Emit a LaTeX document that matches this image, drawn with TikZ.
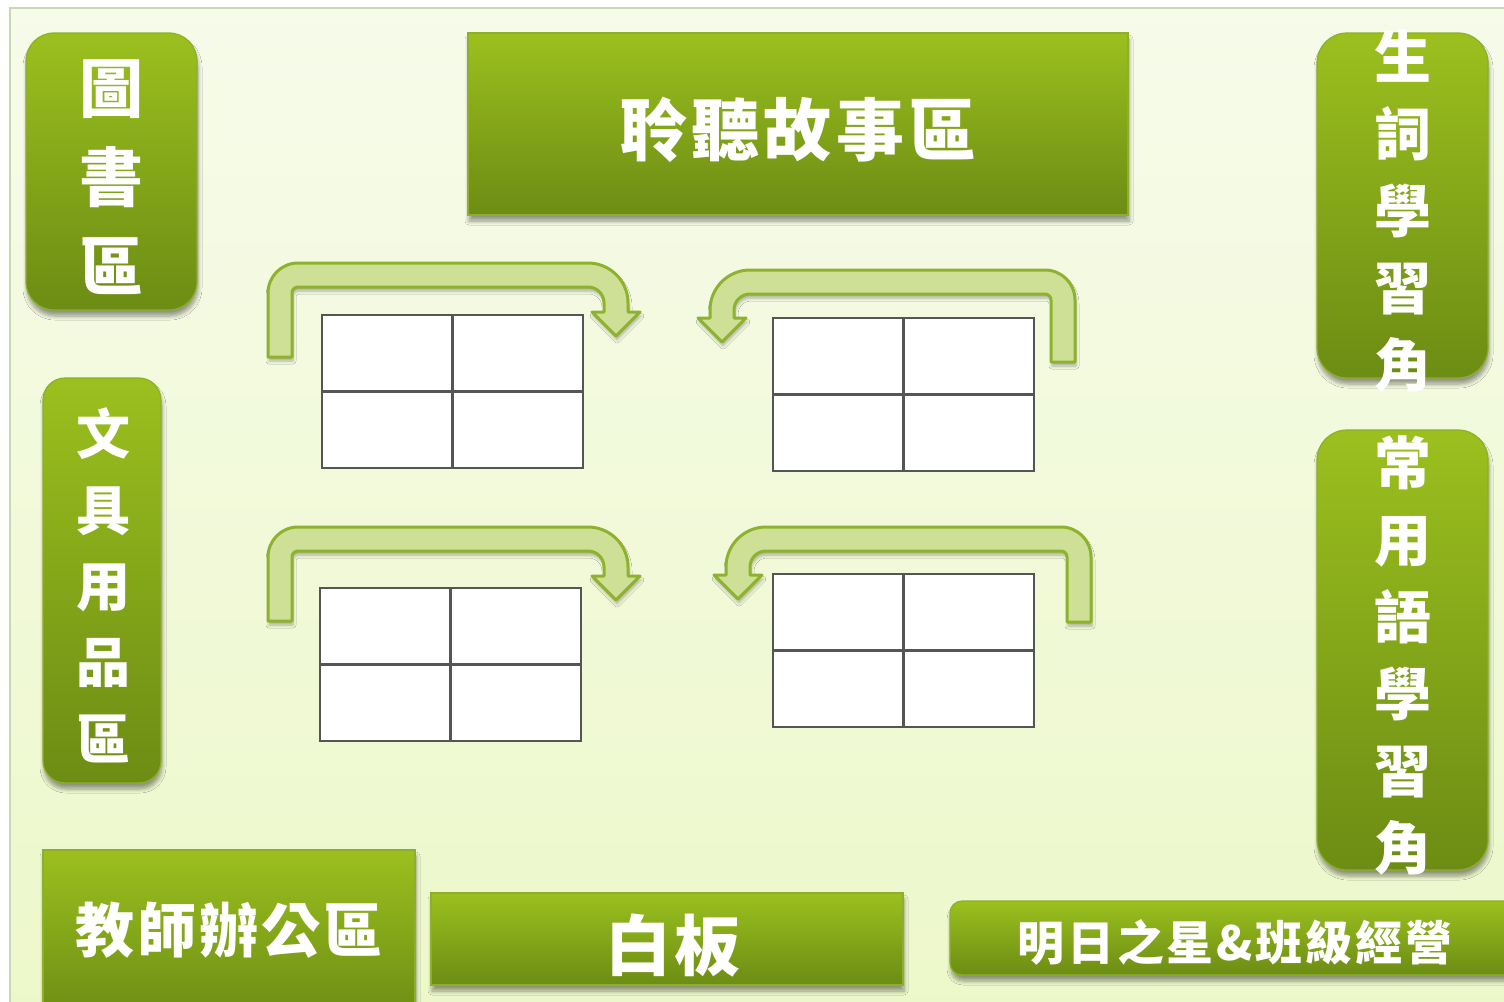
\documentclass[tikz,border=0pt]{standalone}
\usepackage{fontspec}
\newfontfamily\cjk{Noto Sans CJK TC}
\usetikzlibrary{shadows.blur}
\definecolor{gtop}{HTML}{9BC01E}
\definecolor{gbot}{HTML}{6C8C14}
\definecolor{gedge}{HTML}{8DAF2A}
\definecolor{afill}{HTML}{CDE096}
\definecolor{aedge}{HTML}{8FB22E}
\definecolor{bgtop}{HTML}{F6FBEA}
\definecolor{bgbot}{HTML}{EDF8CA}
\definecolor{framec}{HTML}{C9D8AE}
\definecolor{gridc}{HTML}{555555}
\tikzset{
  greenbox/.style={top color=gtop, bottom color=gbot, draw=gedge, line width=0.6pt,
    blur shadow={shadow blur steps=6, shadow xshift=0.5pt, shadow yshift=-3pt, shadow opacity=40, shadow blur radius=2pt}},
  uarrow/.style={fill=afill, draw=aedge, line width=1.5pt, line join=round,
    blur shadow={shadow blur steps=5, shadow xshift=0.5pt, shadow yshift=-2pt, shadow opacity=30, shadow blur radius=1.5pt}},
  seat/.style={fill=white, draw=gridc, line width=1.2pt},
  seatline/.style={draw=gridc, line width=1.2pt},
  label/.style={text=white, inner sep=0pt, align=center},
}
\begin{document}
\begin{tikzpicture}[x=0.5pt, y=-0.5pt]
\useasboundingbox (0,0) rectangle (1504,1001);
\fill[white] (0,0) rectangle (1504,1001);
\shade[top color=bgtop, bottom color=bgbot] (10,8) rectangle (1510,1010);
\draw[framec, line width=1pt] (10,1010) -- (10,8) -- (1510,8);

% boxes
\path[greenbox, rounded corners=14pt] (26,33) rectangle (197,310);
\path[greenbox] (468,33) rectangle (1128,215);
\path[greenbox, rounded corners=15pt] (1317,33) rectangle (1488,378);
\path[greenbox, rounded corners=11pt] (43,378) rectangle (161,783);
\path[greenbox, rounded corners=15pt] (1317,430) rectangle (1488,870);
\path[greenbox] (43,850) rectangle (415,1020);
\path[greenbox] (431,893) rectangle (903,985);
\path[greenbox, rounded corners=6pt] (950,901) rectangle (1530,975);

% labels
\node[label, font=\cjk\bfseries\fontsize{32}{44.5}\selectfont] (library) at (111,177) {圖\\書\\區};
\node[label, font=\cjk\bfseries\fontsize{34}{40}\selectfont\addfontfeature{LetterSpace=6}] (story) at (798,130) {聆聽故事區};
\node[label, font=\cjk\bfseries\fontsize{28.5}{38.4}\selectfont] (vocab) at (1403,211) {生\\詞\\學\\習\\角};
\node[label, font=\cjk\bfseries\fontsize{27}{38.1}\selectfont] (station) at (103,585) {文\\具\\用\\品\\區};
\node[label, font=\cjk\bfseries\fontsize{28.5}{38.5}\selectfont] (phrase) at (1403,655) {常\\用\\語\\學\\習\\角};
\node[label, font=\cjk\bfseries\fontsize{29.5}{36}\selectfont\addfontfeature{LetterSpace=5}] (office) at (229,930) {教師辦公區};
\node[label, font=\cjk\bfseries\fontsize{33}{36}\selectfont\addfontfeature{LetterSpace=4}] (board) at (673,945) {白板};
\node[label, font=\cjk\bfseries\fontsize{23.5}{30}\selectfont\addfontfeature{LetterSpace=6}] (star) at (1235,942) {明日之星\&班級經營};

% arrows
\foreach \dy in {0,264}{
\begin{scope}[shift={(0,\dy)}]
\path[uarrow] (268,357) -- (268,293) arc[start angle=180,end angle=270,radius=30]
  -- (588,263) arc[start angle=270,end angle=360,radius=40]
  -- (628,312) -- (640,312) -- (616,336) -- (592,312) -- (604,312) -- (604,303)
  arc[start angle=0,end angle=-90,radius=16]
  -- (298,287) arc[start angle=270,end angle=180,radius=6]
  -- (292,357) -- cycle;
\end{scope}}
\foreach \dx/\dy/\ex in {0/0/0,16/257/3}{
\begin{scope}[shift={(\dx,\dy)}]
\path[uarrow] (1075,362+\ex) -- (1075,300) arc[start angle=0,end angle=-90,radius=30]
  -- (750,270) arc[start angle=270,end angle=180,radius=40]
  -- (710,318) -- (698,318) -- (722,342) -- (746,318) -- (734,318) -- (734,310)
  arc[start angle=180,end angle=270,radius=16]
  -- (1045,294) arc[start angle=270,end angle=360,radius=6]
  -- (1051,362+\ex) -- cycle;
\end{scope}}

% seating grids
\foreach \x/\y/\n in {322/315/t1, 773/318/t2, 320/588/t3, 773/574/t4}{
  \path[seat] (\x,\y) rectangle ++(261,153);
  \draw[seatline] (\x+130.5,\y) -- ++(0,153);
  \draw[seatline] (\x,\y+76.5) -- ++(261,0);
}
\end{tikzpicture}
\end{document}
